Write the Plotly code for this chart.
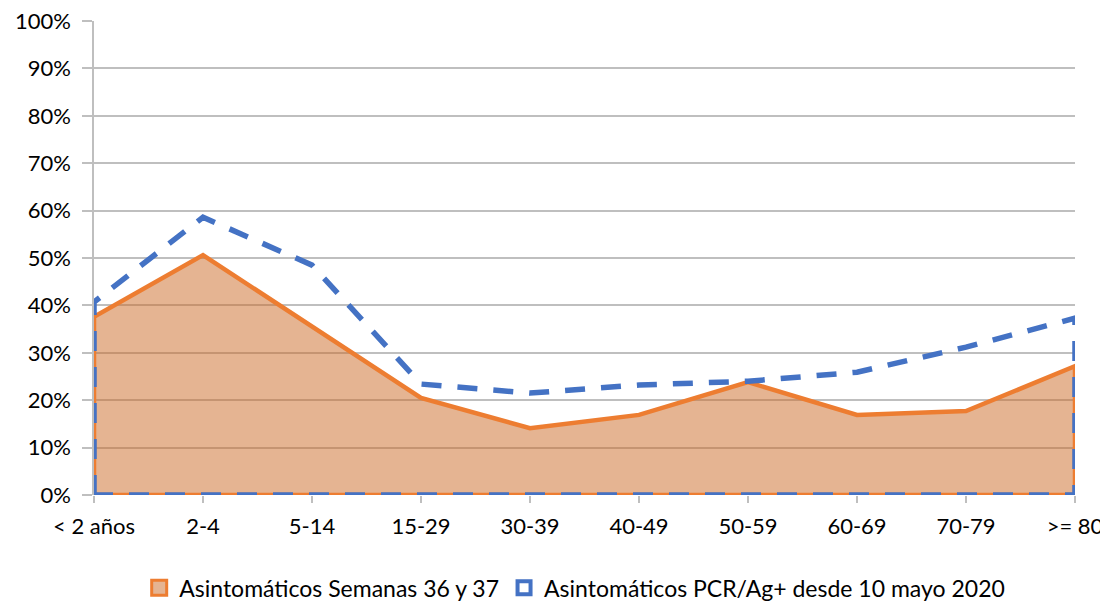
import plotly.graph_objects as go

categories = ["< 2 años", "2-4", "5-14", "15-29", "30-39", "40-49", "50-59", "60-69", "70-79", ">= 80"]
semanas_36_37 = [0.376, 0.506, 0.355, 0.205, 0.141, 0.169, 0.238, 0.169, 0.177, 0.272]
desde_10_mayo = [0.407, 0.586, 0.485, 0.234, 0.215, 0.232, 0.240, 0.259, 0.312, 0.373]
y_ticks = [0, 0.1, 0.2, 0.3, 0.4, 0.5, 0.6, 0.7, 0.8, 0.9, 1.0]
y_tick_labels = ["0%", "10%", "20%", "30%", "40%", "50%", "60%", "70%", "80%", "90%", "100%"]
series_names = ["Asintomáticos Semanas 36 y 37", "Asintomáticos PCR/Ag+ desde 10 mayo 2020"]

n = len(categories)
idx = list(range(n))


def closed(vals):
    xs = [0] + idx + [n - 1, 0]
    ys = [0] + list(vals) + [0, 0]
    return xs, ys


FONT = "Lato, 'Open Sans', sans-serif"
ORANGE = "#ED7D31"
BLUE = "#4472C4"
FILL = "rgba(203,105,37,0.5)"

fig = go.Figure()
xo, yo = closed(semanas_36_37)
fig.add_trace(go.Scatter(
    x=xo, y=yo, mode="lines", fill="toself", fillcolor=FILL,
    line=dict(color=ORANGE, width=4.5),
    name=series_names[0], showlegend=False,
    cliponaxis=False, hoverinfo="skip",
))
xb, yb = closed(desde_10_mayo)
fig.add_trace(go.Scatter(
    x=xb, y=yb, mode="lines",
    line=dict(color=BLUE, width=5.5, dash="20px,16px"),
    name=series_names[1], showlegend=False,
    cliponaxis=False, hoverinfo="skip",
))
# legend keys (square swatches, as in the reference)
fig.add_trace(go.Scatter(
    x=[None], y=[None], mode="markers", name=series_names[0],
    marker=dict(symbol="square", size=15, color="rgba(229,180,146,1)",
                line=dict(color=ORANGE, width=3)),
))
fig.add_trace(go.Scatter(
    x=[None], y=[None], mode="markers", name=series_names[1],
    marker=dict(symbol="square-open", size=13, color=BLUE,
                line=dict(color=BLUE, width=4)),
))

# page body has an 8px margin, so the figure is drawn at (8, 8)
W, H = 1100, 595
fig.update_layout(
    template="none",
    width=W, height=H,
    margin=dict(l=86, r=33, t=13, b=108, autoexpand=False),
    paper_bgcolor="white", plot_bgcolor="white",
    font=dict(family=FONT, color="#000000"),
    showlegend=True,
    legend=dict(orientation="h", x=0.49, xanchor="center", y=-0.196, yanchor="middle",
                font=dict(size=23, family=FONT), itemwidth=30, tracegroupgap=0,
                bgcolor="rgba(0,0,0,0)"),
    xaxis=dict(
        range=[0, n - 1], tickmode="array", tickvals=idx, ticktext=categories,
        showgrid=False, zeroline=False, showline=False, automargin=False,
        ticks="outside", ticklen=7, tickcolor="#BFBFBF", tickwidth=1.5,
        ticklabelstandoff=5, ticklabeloverflow="allow",
        tickfont=dict(size=22, family=FONT), fixedrange=True,
    ),
    yaxis=dict(
        range=[0, 1], tickmode="array", tickvals=y_ticks, ticktext=y_tick_labels,
        showgrid=True, gridcolor="#BFBFBF", gridwidth=1.5, automargin=False,
        zeroline=False, showline=True, linecolor="#BFBFBF", linewidth=1.5,
        ticks="outside", ticklen=10, tickcolor="#BFBFBF", tickwidth=1.5,
        ticklabelstandoff=7, ticklabeloverflow="allow",
        tickfont=dict(size=22, family=FONT), fixedrange=True,
    ),
)
fig.add_shape(type="line", xref="paper", yref="y", x0=0, x1=1, y0=0, y1=0,
              line=dict(color="#BFBFBF", width=1.5), layer="below")

fig.write_html("out.html")
